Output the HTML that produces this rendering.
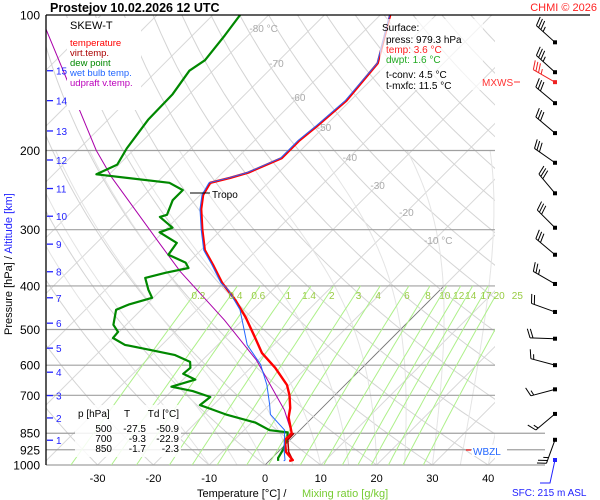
<!DOCTYPE html>
<html><head><meta charset="utf-8"><style>
html,body{margin:0;padding:0;background:#fff;}
svg{display:block;font-family:"Liberation Sans",sans-serif;}
</style></head><body>
<svg id="chart" width="600" height="500" viewBox="0 0 600 500" xmlns="http://www.w3.org/2000/svg">
<defs><clipPath id="plotclip"><rect x="46" y="15" width="449" height="450"/></clipPath></defs>
<g id="grid" clip-path="url(#plotclip)"></g>
<g id="isobars"></g>
<g id="mixing" clip-path="url(#plotclip)"></g>
<g id="series" clip-path="url(#plotclip)"></g>
<g id="labels"></g>
<g id="barbs"></g>
<line x1="46" y1="15" x2="590" y2="15" stroke="#000" stroke-width="1.3"/>
<line x1="46" y1="15" x2="46" y2="465" stroke="#000" stroke-width="1.3"/>
<text x="50" y="12" font-size="12.5" font-weight="bold">Prostejov    10.02.2026 12 UTC</text>
<text x="597" y="11" font-size="11" fill="#f22" text-anchor="end">CHMI © 2026</text>
<rect x="67" y="18" width="74" height="92" fill="#fff"/>
<text x="70" y="29" font-size="11">SKEW-T</text>
<text x="70" y="46" font-size="9.5" fill="#f00">temperature</text>
<text x="70" y="56" font-size="9.5" fill="#a00">virt.temp.</text>
<text x="70" y="66" font-size="9.5" fill="#080">dew point</text>
<text x="70" y="76" font-size="9.5" fill="#26f">wet bulb temp.</text>
<text x="70" y="86" font-size="9.5" fill="#b0b">udpraft v.temp.</text>
<rect x="380" y="19" width="103" height="71" fill="#fff" fill-opacity="0.7"/>
<text x="382" y="31" font-size="10">Surface:</text>
<text x="386" y="43" font-size="10">press: 979.3 hPa</text>
<text x="386" y="53" font-size="10" fill="#f22">temp: 3.6 °C</text>
<text x="386" y="63" font-size="10" fill="#2a2">dwpt: 1.6 °C</text>
<text x="386" y="78" font-size="10">t-conv: 4.5 °C</text>
<text x="386" y="89" font-size="10">t-mxfc: 11.5 °C</text>
<rect x="75" y="405" width="106" height="52" fill="#fff" fill-opacity="0.85"/>
<g font-size="10">
<text x="78" y="417">p [hPa]</text><text x="127" y="417" text-anchor="middle">T</text><text x="179" y="417" text-anchor="end">Td [°C]</text>
<text x="112" y="432" text-anchor="end">500</text><text x="146" y="432" text-anchor="end">-27.5</text><text x="179" y="432" text-anchor="end">-50.9</text>
<text x="112" y="442" text-anchor="end">700</text><text x="146" y="442" text-anchor="end">-9.3</text><text x="179" y="442" text-anchor="end">-22.9</text>
<text x="112" y="452" text-anchor="end">850</text><text x="146" y="452" text-anchor="end">-1.7</text><text x="179" y="452" text-anchor="end">-2.3</text>
</g>
<line x1="190" y1="193" x2="210" y2="193" stroke="#000"/>
<text x="212" y="198" font-size="10">Tropo</text>
<text x="482" y="86" font-size="10" fill="#f33">MXWS</text>
<line x1="514" y1="82" x2="520" y2="82" stroke="#f33"/>
<line x1="466" y1="450" x2="471" y2="450" stroke="#e33" stroke-width="1.5"/>
<rect x="472" y="445" width="35" height="11" fill="#fff"/>
<text x="473" y="455" font-size="10" fill="#26f">WBZL</text>
<text x="197" y="497" font-size="11">Temperature [°C]  /</text>
<text x="302" y="497" font-size="11" fill="#7c3">Mixing ratio [g/kg]</text>
<text x="512" y="496" font-size="10" fill="#22f">SFC: 215 m ASL</text>
<g transform="translate(12,335) rotate(-90)" font-size="11">
<text x="0" y="0">Pressure [hPa]  /  <tspan fill="#22f">Altitude [km]</tspan></text></g>
</svg>
<script>
// ---- data ----
const tempP = [979,975,935,880,850,784,747,700,664,608,564,516,470,429,394,359,333,300,270,251,236,230,224,208,190,176,155,128,100];
const tempT = [3.6,4.1,1.4,-0.9,-0.9,-4.3,-5.7,-8.1,-10.4,-15.6,-20.6,-25.1,-29.9,-35,-40.3,-45.2,-49.3,-53.4,-57.3,-59.5,-60.4,-57.7,-55.4,-52,-52,-51.4,-50.7,-51.8,-58.2];
const dewP = [979,965,925,874,846,837,805,772,747,736,706,685,670,646,627,608,590,570,555,541,522,506,488,452,440,425,408,384,374,365,355,341,321,304,297,281,278,258,245,236,226,215,198,171,150,133,126,111,100];
const dewT = [1.6,1.1,0.5,-0.7,-1.8,-5.4,-9.3,-16.1,-20.4,-22.4,-22,-26.2,-30.8,-27.8,-31,-30.8,-31.9,-35.8,-41.2,-46.6,-50,-50.2,-52.3,-54.5,-53.2,-50.2,-52.3,-55,-52.3,-49,-50.5,-55,-55.6,-60.6,-59.1,-63.3,-62.4,-64,-64,-67.7,-82.3,-80.3,-81.5,-82.8,-83,-84.2,-83.3,-84.2,-85.1];
const wbP = [979,975,925,837,772,736,664,598,541,452,408,394,359,333,300,270,251,236,230,224,208,190,176,155,128,100];
const wbT = [2.6,2.7,0.7,-2.7,-8.1,-9.9,-14,-18.8,-24.7,-32.3,-38,-40.5,-45.4,-49.5,-53.6,-57.5,-59.7,-60.6,-57.9,-55.6,-52.2,-52.2,-51.6,-50.9,-51.9,-58.3];
const vtP = [979,935,880,850];
const vtT = [4.3,1.9,-0.4,-0.5];
const parP = [850,756,585,476,372,324,230,200,107];
const parT = [-0.9,-6.3,-20.3,-33.3,-49.8,-58.2,-78.9,-86.6,-117.6];
const pressTicks = [100,200,300,400,500,600,700,850,925,1000];
const tempTicks = [-30,-20,-10,0,10,20,30,40];
const isoLabels = [-80,-70,-60,-50,-40,-30,-20,-10];
const mixRatios = [0.2,0.4,0.6,1,1.4,2,3,4,6,8,10,12,14,17,20,25];
const altKm = [1,2,3,4,5,6,7,8,9,10,11,12,13,14,15];
const altP = [881,786,701,622,550,484,425,372,323,280,243,210,181,155,133];
const barbP = [115,134,141,157,183,213,249,297,341,396,457,524,600,679,770,879];
const barbDir = [312,312,300,310,310,305,320,315,310,300,290,272,285,255,230,200];
const barbSpd = [35,35,35,30,30,30,30,30,30,25,20,20,15,15,15,25];

// ---- scales ----
const NS="http://www.w3.org/2000/svg";
function py(p){return 15+450*Math.log10(p/100);}
function px(T,p){return 265+5.58*T+(465-py(p));}
function mk(tag,attrs,parent){const e=document.createElementNS(NS,tag);for(const k in attrs)e.setAttribute(k,attrs[k]);parent.appendChild(e);return e;}
function path(pts){return pts.map((q,i)=>(i?'L':'M')+q[0].toFixed(1)+' '+q[1].toFixed(1)).join(' ');}
const grid=document.getElementById('grid'),isob=document.getElementById('isobars'),mix=document.getElementById('mixing'),ser=document.getElementById('series'),lab=document.getElementById('labels'),barbs=document.getElementById('barbs');

for(let T=-160;T<=50;T+=10){
  const e=mk('line',{x1:px(T,1000),y1:py(1000),x2:px(T,100),y2:py(100),stroke:'#d8d8d8','stroke-width':1},grid);
  
  
}
{const e=mk('line',{x1:px(0,1000),y1:py(1000),x2:px(0,400),y2:py(400),stroke:'#777','stroke-width':0.8},grid);

}
for(let th=-40;th<=200;th+=10){
  const pts=[];for(let p=1000;p>=100;p-=10){const T=(th+273.15)*Math.pow(p/1000,0.286)-273.15;pts.push([px(T,p),py(p)]);}
  const e=mk('path',{d:path(pts),fill:'none',stroke:'#d4d4d4','stroke-width':1},grid);
  
  
}
function moistLapse(Tk,p){const Tc=Tk-273.15;const es=6.112*Math.exp(17.67*Tc/(Tc+243.5));const rs=0.622*es/(p-es);const num=(287*Tk+2.5e6*rs)/p;const den=1004+(2.5e6*2.5e6*rs*0.622)/(287*Tk*Tk);return num/den;}
for(let T0=-10;T0<=40;T0+=5){
  let Tk=T0+273.15;const pts=[];
  for(let p=1000;p>=200;p-=5){pts.push([px(Tk-273.15,p),py(p)]);Tk-=moistLapse(Tk,p)*5;}
  const e=mk('path',{d:path(pts),fill:'none',stroke:'#e4e4e4','stroke-width':1},grid);
  
  
}
pressTicks.forEach(p=>{
  if(p>100){const x2=p>=850?545:495;
    const e=mk('line',{x1:46,y1:py(p),x2:x2,y2:py(p),stroke:'#a0a0a0','stroke-width':1.2},isob);
    
    }
  const t=mk('text',{x:40,y:py(p)+4.5,'font-size':12,'text-anchor':'end'},lab);t.textContent=p;
  
  
});
tempTicks.forEach(T=>{const t=mk('text',{x:px(T,1000),y:482,'font-size':11,'text-anchor':'middle'},lab);t.textContent=T;
  
  });
const isoY=[28,63,97,127,157,185,212,240];
isoLabels.forEach((T,i)=>{const yy=isoY[i];
  const x=265+5.58*T+(465-yy);
  const t=mk('text',{x:x+(T===-80?8:(T===-10?4:0)),y:yy+4,'font-size':10,fill:'#aaa','text-anchor':'middle'},lab);
  t.textContent=(T===-80||T===-10)?T+' °C':T;
  
  });
function tdFromW(w,p){const e=w*p/(622+w);const l=Math.log(e/6.112);return 243.5*l/(17.67-l);}
mixRatios.forEach(w=>{const pts=[];for(let p=1000;p>=400;p-=20)pts.push([px(tdFromW(w,p),p),py(p)]);
  const e=mk('path',{d:path(pts),fill:'none',stroke:'#aef08a','stroke-width':1},mix);
  
  
  const t=mk('text',{x:px(tdFromW(w,400),400)-2,y:299,'font-size':10,fill:'#9c4','text-anchor':'middle'},lab);t.textContent=w;
  
  });
altKm.forEach((k,i)=>{const y=py(altP[i]);
  const l=mk('line',{x1:47,y1:y,x2:53,y2:y,stroke:'#22f','stroke-width':1.3},lab);
  
  
  const t=mk('text',{x:56,y:y+4,'font-size':10,fill:'#22f'},lab);t.textContent=k;
  
  });
function line(P,T,color,w,name){const pts=P.map((p,i)=>[px(T[i],p),py(p)]);
  const e=mk('path',{d:path(pts),fill:'none',stroke:color,'stroke-width':w,'stroke-linejoin':'round'},ser);
  
  }
line(parP,parT,'#a0a','1','updraft-line');
line(dewP,dewT,'#080','2.2','dew-point-line');
line(vtP,vtT,'#a00','1.5','virtual-temp-line');
line(tempP,tempT,'#f00','2.4','temperature-line');
line(wbP,wbT,'#26f','1','wet-bulb-line');
barbP.forEach((p,i)=>{const y=py(p),x=555;const d=barbDir[i]*Math.PI/180;
  const ux=Math.sin(d),uy=-Math.cos(d);const L=25;const ex=x+ux*L,ey=y+uy*L;
  const col=(i===2)?'#e22':'#000';
  const g=mk('g',{},barbs);
  
  
  mk('line',{x1:x,y1:y,x2:ex,y2:ey,stroke:col,'stroke-width':1},g);
  mk('rect',{x:x-2,y:y-2,width:4,height:4,fill:col},g);
  let s=barbSpd[i],k=0;const nx=-uy,ny=ux;
  while(s>=10){const bx=ex-ux*k*3,by=ey-uy*k*3;mk('line',{x1:bx,y1:by,x2:bx+nx*9+ux*3,y2:by+ny*9+uy*3,stroke:col},g);s-=10;k++;}
  if(s>=5){const bx=ex-ux*k*3,by=ey-uy*k*3;mk('line',{x1:bx,y1:by,x2:bx+nx*5+ux*1.5,y2:by+ny*5+uy*1.5,stroke:col},g);}
});
{const e=mk('path',{d:'M555 460 L550 483 L540 483',fill:'none',stroke:'#22f','stroke-width':1},barbs);


const r=mk('rect',{x:553,y:458,width:4,height:4,fill:'#22f'},barbs);

}
</script>
</body></html>
